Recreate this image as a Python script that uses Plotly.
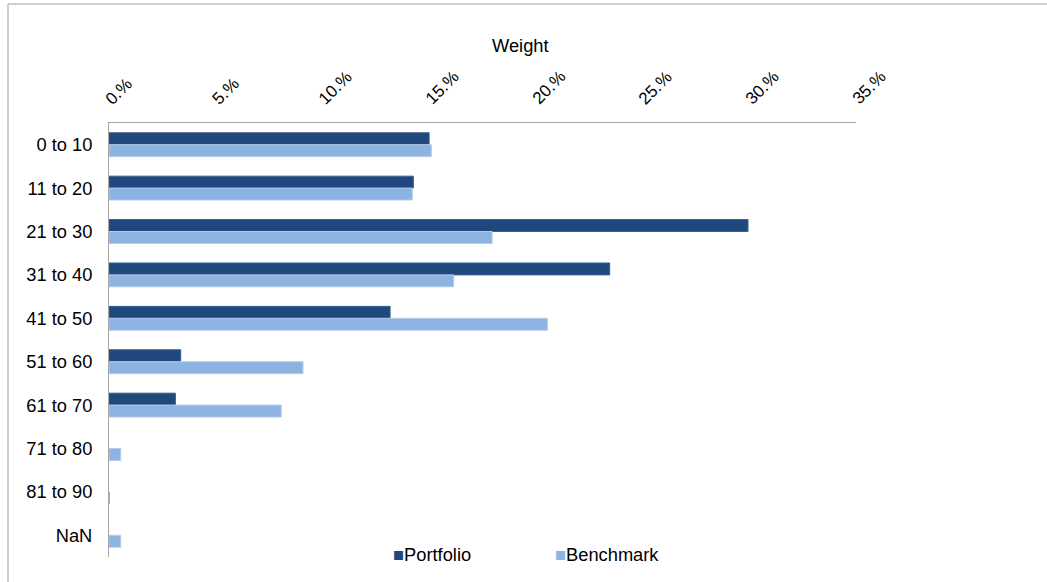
import plotly.graph_objects as go

# Age buckets and weights (in %)
categories = ["0 to 10", "11 to 20", "21 to 30", "31 to 40", "41 to 50",
              "51 to 60", "61 to 70", "71 to 80", "81 to 90", "NaN"]
portfolio = [15.0, 14.26, 29.94, 23.46, 13.17, 3.36, 3.11, 0.0, 0.0, 0.0]
benchmark = [15.1, 14.21, 17.95, 16.15, 20.54, 9.09, 8.07, 0.55, 0.03, 0.55]

tick_vals = [0, 5, 10, 15, 20, 25, 30, 35]
tick_text = ["0.%", "5.%", "10.%", "15.%", "20.%", "25.%", "30.%", "35.%"]

DARK = "#1F497D"
LIGHT = "#8DB3E2"
FONT = "Liberation Sans, Arial, sans-serif"
FS = 18.3       # category labels, title, legend
FS_TICK = 17    # rotated percentage labels

W, H = 1047, 582
ML, MR, MT, MB = 109, 191, 123, 25
PW = W - ML - MR
PH = H - MT - MB


def px_x(px):
    return (px - ML) / PW


def px_y(py):
    return (H - MB - py) / PH


def outline(vals):
    # no outline on empty bars so they do not leave a sliver
    return [1 if v > 0.1 else 0 for v in vals]


fig = go.Figure()
fig.add_trace(go.Bar(
    y=categories, x=portfolio, orientation="h", name="Portfolio",
    marker=dict(color=DARK, line=dict(color="#3A5F8E", width=outline(portfolio))),
    showlegend=False,
))
fig.add_trace(go.Bar(
    y=categories, x=benchmark, orientation="h", name="Benchmark",
    marker=dict(color=LIGHT, line=dict(color="#B4CCEB", width=outline(benchmark))),
    showlegend=False,
))

annotations = []
# Rotated percentage labels above the top axis
for v, t in zip(tick_vals, tick_text):
    annotations.append(dict(
        x=v, xref="x", y=1, yref="paper", text=t, showarrow=False,
        textangle=-45, xanchor="left", yanchor="bottom",
        xshift=-10, yshift=12,
        font=dict(family=FONT, size=FS_TICK, color="#000000"),
    ))

# Axis title
annotations.append(dict(
    x=px_x(520), y=px_y(45), xref="paper", yref="paper", text="Weight",
    showarrow=False, xanchor="center", yanchor="middle",
    font=dict(family=FONT, size=FS, color="#000000"),
))

# Legend entries
for label, col, left in [("Portfolio", DARK, 391), ("Benchmark", LIGHT, 553)]:
    annotations.append(dict(
        x=px_x(left), y=px_y(554), xref="paper", yref="paper",
        text=f'<span style="color:{col}">■</span>{label}',
        showarrow=False, xanchor="left", yanchor="middle",
        font=dict(family=FONT, size=FS, color="#000000"),
    ))

fig.update_layout(
    width=W, height=H,
    margin=dict(l=ML, r=MR, t=MT, b=MB),
    paper_bgcolor="white", plot_bgcolor="white",
    barmode="group", bargap=0.45, bargroupgap=0,
    font=dict(family=FONT, size=FS, color="#000000"),
    xaxis=dict(
        side="top", range=[0, 35], tickvals=tick_vals, showticklabels=False,
        showgrid=False, zeroline=False, showline=True,
        linecolor="#A6A6A6", linewidth=1, ticks="",
    ),
    yaxis=dict(
        autorange="reversed", showgrid=False, zeroline=False,
        showline=True, linecolor="#A6A6A6", linewidth=1, ticks="",
        ticklabelstandoff=12,
        tickfont=dict(family=FONT, size=FS, color="#000000"),
    ),
    annotations=annotations,
    shapes=[
        # outer chart frame (left and top edges)
        dict(type="line", xref="paper", yref="paper",
             x0=px_x(8), x1=px_x(8), y0=px_y(4), y1=px_y(582),
             line=dict(color="#BFBFBF", width=1.5)),
        dict(type="line", xref="paper", yref="paper",
             x0=px_x(8), x1=px_x(1047), y0=px_y(4), y1=px_y(4),
             line=dict(color="#BFBFBF", width=1.5)),
    ],
)

fig.write_html("out.html")
